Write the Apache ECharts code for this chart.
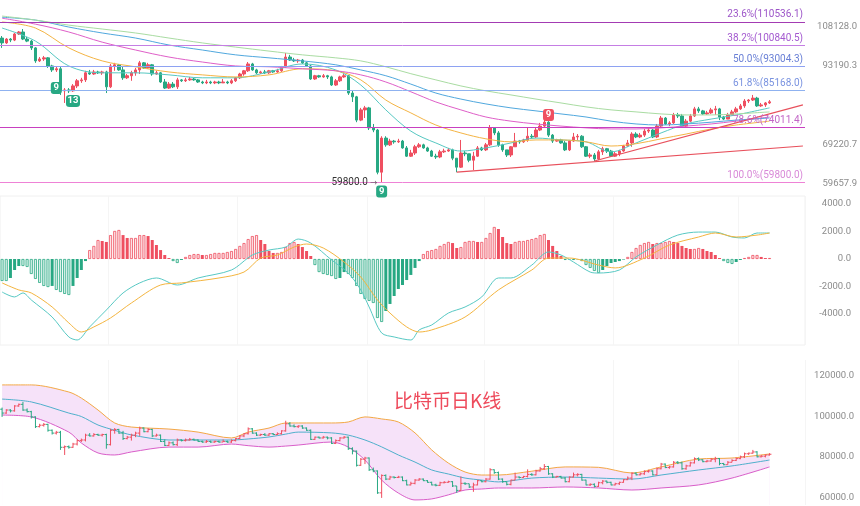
<!DOCTYPE html>
<html>
<head>
<meta charset="utf-8">
<script src="https://cdn.jsdelivr.net/npm/echarts@6/dist/echarts.min.js"></script>
<style>
  html, body { margin: 0; padding: 0; background: #fff; }
  #chart { width: 860px; height: 506px; }
</style>
</head>
<body>
<div id="chart"></div>
<script>
// 日K数据 (开, 收, 高, 低)
const OPEN = [
  103600,101700,103200,102800,105200,106000,103200,102400,99800,95000,
  95700,96100,93200,91800,92200,84800,85100,84800,86400,88100,
  88400,90800,90400,91100,90800,91100,86100,93200,93600,91800,
  89100,89800,90800,91800,94300,92500,93600,90400,90800,87700,
  85700,87000,86100,88400,88100,88400,88700,88400,87700,87400,
  87700,87400,87700,87400,87700,87400,88100,89100,90400,91500,
  93900,91800,90800,91100,90800,91500,91100,91500,92900,96400,
  95300,95000,95300,94300,93200,88700,89800,89400,89800,89400,
  86700,88100,89400,89800,84100,82900,75900,78900,79500,73700,
  73100,62300,70900,69100,70100,69900,70100,68300,66200,67000,
  68600,69100,68300,67500,66200,66000,67300,67500,67800,65700,
  63500,67000,66800,65200,66200,68300,67800,69100,73700,72300,
  69100,67800,66500,68600,70100,69900,70400,71400,71200,73100,
  74200,75300,71700,70100,70400,69600,67800,70100,71200,71400,
  68600,66200,66500,65500,67300,68100,67500,66200,66800,67500,
  68800,69600,72000,71200,71700,72800,73100,71200,74200,76500,
  74800,75100,77400,77100,74200,75600,77100,79200,78600,77700,
  78000,78900,79200,76800,76200,77400,78300,79200,80100,81600,
  81900,82500,80100,80400,81000
];
const CLOSE = [
  101700,103200,102800,105200,106000,103200,102400,99800,95000,95700,
  96100,93200,91800,92200,84800,85100,84800,86400,88100,88400,
  90800,90400,91100,90800,91100,86100,93200,93600,91800,89100,
  89800,90800,91800,94300,92500,93600,90400,90800,87700,85700,
  87000,86100,88400,88100,88400,88700,88400,87700,87400,87700,
  87400,87700,87400,87700,87400,88100,89100,90400,91500,93900,
  91800,90800,91100,90800,91500,91100,91500,92900,96400,95300,
  95000,95300,94300,93200,88700,89800,89400,89800,89400,86700,
  88100,89400,89800,84100,82900,75900,78900,79500,73700,73100,
  62300,70900,69100,70100,69900,70100,68300,66200,67000,68600,
  69100,68300,67500,66200,66000,67300,67500,67800,65700,63500,
  67000,66800,65200,66200,68300,67800,69100,73700,72300,69100,
  67800,66500,68600,70100,69900,70400,71400,71200,73100,74200,
  75300,71700,70100,70400,69600,67800,70100,71200,71400,68600,
  66200,66500,65500,67300,68100,67500,66200,66800,67500,68800,
  69600,72000,71200,71700,72800,73100,71200,74200,76500,74800,
  75100,77400,77100,74200,75600,77100,79200,78600,77700,78000,
  78900,79200,76800,76200,77400,78300,79200,80100,81600,81900,
  82500,80100,80400,81000,81353.5
];
const HIGH = [
  104400,103600,103600,105600,106400,107200,104000,102800,100100,96400,
  96800,96400,93600,92900,92900,85700,85700,87000,88700,89100,
  91500,91800,91800,91500,91500,91500,93900,94300,93900,92900,
  90400,91500,92500,95000,94600,94300,93900,91500,91100,88700,
  87700,87700,89100,88700,89100,89400,89100,88700,88100,88400,
  88100,88100,88100,88700,88100,88700,89400,90800,91800,94600,
  94300,92200,91500,91800,91800,91800,92200,93200,97900,97200,
  96100,95700,95700,94600,93600,90100,90100,90400,90100,89800,
  88700,89800,90400,90100,84800,83200,79500,80100,79800,74800,
  73400,71400,71400,70700,70400,70700,70400,68800,67800,69100,
  69600,69400,68600,67800,66800,67800,68100,68300,68100,65700,
  70400,67500,66800,67300,68800,68600,69600,74500,73900,72800,
  69400,67800,68800,72300,70400,70700,73900,72000,73700,75100,
  76500,75600,72000,70700,70700,70100,70400,72300,72000,71700,
  68800,67000,67000,67800,68600,68300,67800,67300,67800,69100,
  70400,72500,72500,72300,73400,73700,73400,74800,77100,76800,
  75600,78000,78000,77700,76200,77700,79800,79800,78900,78600,
  79500,80100,79500,77100,78000,78900,79800,80700,82200,82200,
  83500,82900,81000,81300,81900
];
const LOW = [
  99800,101300,102000,102400,104800,102800,102000,99000,94300,94600,
  95000,92500,91100,91100,83500,81000,84100,84500,85700,87400,
  87700,90100,90100,90400,90100,84100,85700,91500,91500,88400,
  88700,88100,89800,90400,92200,92200,89800,90100,87400,85400,
  85400,85700,85400,87700,87700,88100,88100,87400,87000,87000,
  87000,87000,87000,87400,87000,87000,87700,88700,89800,91100,
  91500,90400,90400,90400,90400,90800,90800,91100,92500,95000,
  94600,94300,93900,92900,88400,88400,89100,89100,88700,86400,
  86400,87700,89100,83500,81300,75300,75600,76500,73100,72500,
  61800,59800,68600,68800,69400,69600,68100,66000,66000,66500,
  68300,68100,67300,66000,65500,65700,67000,67300,65200,62300,
  63300,66200,64700,62800,66000,67500,67500,68800,71700,68600,
  67300,66000,66000,68600,69400,69600,69900,70700,70900,72800,
  73700,71200,69600,69900,69400,67500,67500,69900,70400,68300,
  66000,65700,65000,65200,66500,67000,66000,66000,66200,67300,
  68600,68600,70900,70900,71200,72300,70900,70900,73900,74500,
  74200,74800,76500,73700,73700,75300,76800,78000,77400,77400,
  77700,77400,75900,75900,76200,77400,78000,78900,79500,81000,
  81600,79800,79800,79800,80700
];
const LAST_PRICE = 81353.5;

// 均线 (读图取样点)
const MA_IDX = [0, 8, 16, 24, 32, 40, 48, 56, 64, 72, 80, 86, 92, 98, 104, 110, 116, 122, 128, 134, 140, 146, 152, 158, 164, 170, 176, 184];
const MA_A = [107600, 102400, 93200, 90800, 90800, 90100, 89100, 89100, 91100, 93900, 91800, 86700, 78900, 72800, 69600, 67500, 68300, 69600, 70900, 70400, 69900, 67300, 69600, 72300, 74800, 76200, 77400, 79500];
const MA_B = [110100, 107600, 99800, 95000, 92900, 91100, 90100, 89400, 90100, 92200, 91500, 88400, 81900, 78000, 74500, 72300, 70700, 69900, 70400, 70400, 69900, 68800, 69400, 70700, 72000, 73400, 74500, 75600];
const MA_C = [111700, 109200, 106000, 102000, 99000, 96400, 94600, 93200, 92900, 92200, 91500, 90100, 87700, 84500, 81300, 78900, 76800, 75600, 74800, 74200, 73700, 73400, 73400, 73700, 74200, 74800, 75600, 76800];
const MA_D = [112100, 110900, 108000, 105600, 103600, 100900, 99000, 97200, 96100, 95000, 93600, 91800, 89800, 87000, 84100, 82200, 80700, 79500, 78600, 77700, 76800, 75600, 74800, 74500, 74800, 75300, 75900, 76500];
const MA_E = [112600, 110900, 108800, 107200, 105600, 103600, 101700, 100100, 98600, 97200, 96100, 95000, 92900, 90500, 88400, 86400, 84800, 83500, 82200, 81000, 79800, 78900, 78300, 77700, 77400, 77400, 77700, 78300];

// 斐波那契回撤
const FIB_LEVELS = ['23.6%', '38.2%', '50.0%', '61.8%', '78.6%', '100.0%'];
const FIB_PRICES = [110536.1, 100840.5, 93004.3, 85168.0, 74011.4, 59800.0];

// 趋势线端点 [索引, 价格]
const TREND_LOW = [[109, 62300], [192, 68800]];
const TREND_UP = [[142, 65000], [192, 80400]];

// 九转序列标记 [索引, 价格, 文字]
const TD_BUY = [[13, 85700, '9'], [17, 81600, '13'], [91, 57900, '9']];
const TD_SELL = [[131, 77400, '9']];

const PRICE_TICKS = [59657.9, 69220.7, 93190.3, 108128.0];
const TOP_RANGE = [57140, 117420];

// MACD
const MACD_HIST = [
  -1600,-1600,-1380,-800,-510,-510,-580,-1090,-1450,-1740,
  -1960,-2040,-1960,-2250,-2400,-2540,-2620,-1960,-1380,-800,
  -150,650,950,1380,1310,1240,1740,2040,2110,1740,
  1530,1530,1530,1740,1740,1670,1380,1020,650,290,
  70,-150,-290,-70,150,290,360,360,290,290,
  360,440,440,440,510,580,730,950,1160,1450,
  1670,1740,1380,1090,580,440,440,510,870,1160,
  1240,1090,870,580,220,-440,-950,-1090,-1160,-1240,
  -1450,-1380,-950,-1090,-1380,-1960,-2540,-2910,-3050,-3200,
  -4290,-4580,-3780,-3270,-2690,-2180,-1890,-1530,-1160,-650,
  -150,360,580,650,730,950,1090,1240,1160,800,
  870,1240,1310,1310,1240,1240,1530,1890,2330,2180,
  1600,1160,1090,1240,1310,1310,1380,1450,1530,1740,
  1820,1380,950,580,220,-70,-40,-70,-30,-150,
  -440,-650,-870,-1020,-800,-510,-290,-220,-150,-40,
  150,510,800,1020,1160,1240,1090,1160,1160,1240,
  1310,1240,1160,950,800,730,730,800,730,580,
  510,290,70,-150,-290,-360,-220,-70,70,150,
  290,290,150,70,70
];
const DIF_IDX = [0,3,5,7,12,16,18,21,25,29,33,37,42,47,55,60,64,68,71,74,79,83,86,88,91,94,98,100,103,107,111,115,119,122,127,131,134,137,141,143,148,152,157,162,167,171,175,178,181,184];
const DIF = [-2400,-2760,-2470,-2980,-4220,-5670,-5890,-4940,-3710,-2470,-1740,-1380,-1890,-1380,-800,290,650,870,1450,1160,-70,-1020,-2250,-3490,-5380,-5670,-5890,-5160,-4800,-3930,-3490,-2760,-1380,-1380,-440,510,290,-220,-950,-1020,-800,150,1020,1740,1960,1960,1600,1530,1890,1890];
const DEA_IDX = [0,4,7,12,16,19,22,26,31,38,43,52,58,62,66,70,73,77,82,86,90,93,97,100,103,111,119,127,131,136,143,147,154,160,167,171,176,181,184];
const DEA = [-1740,-2250,-2470,-3490,-4650,-5310,-4940,-4290,-3200,-1890,-1740,-1380,-950,70,290,870,1090,800,-220,-1310,-2980,-3930,-4940,-5310,-5160,-4220,-2250,-800,70,70,-440,-650,70,1020,1600,1890,1600,1740,1890];
const MACD_TICKS = [-4000, -2000, 0, 2000, 4000];

// 布林带
const BOLL_IDX = [0, 7, 16, 19, 23, 27, 31, 40, 47, 55, 59, 64, 68, 71, 79, 83, 87, 91, 95, 99, 103, 107, 111, 115, 119, 127, 135, 143, 151, 158, 167, 175, 184];
const BOLL_UP = [115600, 115600, 112100, 109100, 103200, 96800, 94800, 93800, 92300, 89400, 92300, 94300, 96800, 96800, 96800, 97300, 99800, 98800, 97300, 91900, 83500, 77000, 72600, 71100, 71100, 73000, 75100, 74900, 72100, 75100, 79000, 79500, 81500];
const BOLL_MID = [108600, 107200, 101700, 100000, 95800, 93200, 90900, 88400, 88400, 88400, 88900, 89900, 91300, 92300, 91900, 90800, 88400, 85000, 81000, 77500, 73600, 71600, 69600, 68600, 67700, 69600, 70100, 69600, 69100, 71100, 73600, 75600, 78500];
const BOLL_LOW = [100700, 99800, 92300, 86900, 82000, 81000, 82500, 84900, 84900, 86400, 85600, 84900, 85400, 85900, 87400, 84900, 78500, 68600, 62200, 58800, 59300, 61300, 63700, 64200, 64700, 64700, 65200, 64700, 63700, 64700, 66200, 69600, 75100];
const BOLL_TICKS = [60000, 80000, 100000, 120000];

// 颜色
const UP = '#ef4f60';
const DOWN = '#27a883';
const FIB_LINE_COLORS = ['#a33bb3', '#c57ee4', '#8ea2f2', '#8fb2f0', '#c840c0', '#ee82d6'];
const FIB_TEXT_COLORS = ['#9c55c8', '#a45ad0', '#6a80d6', '#7a93e0', '#c266c6', '#d98ad8'];
const MA_COLORS = ['#56c8c2', '#f4b444', '#df5fc8', '#50a8de', '#a9dca2'];

const TOTAL_DAYS = 193;
const DAYS = [];
for (let i = 0; i < TOTAL_DAYS; i++) {
  DAYS.push(new Date(Date.UTC(2025, 10, 5 + i)).toISOString().slice(0, 10));
}

const ln = Math.log;
const pairs = (idx, vals, f) => idx.map((k, i) => [k, f ? f(vals[i]) : vals[i]]);

function initChart() {
  const chart = echarts.init(document.getElementById('chart'));

  const kData = OPEN.map((o, i) => [ln(o), ln(CLOSE[i]), ln(LOW[i]), ln(HIGH[i])]);
  const ohlcData = OPEN.map((o, i) => [i, o, CLOSE[i], LOW[i], HIGH[i]]);

  // 斐波那契线 + 趋势线 + 最新价
  const markLines = FIB_PRICES.map((p, i) => ({
    yAxis: ln(p),
    lineStyle: { color: FIB_LINE_COLORS[i], width: 1, type: 'solid' },
    label: {
      show: true,
      position: 'insideEndTop',
      distance: 2,
      formatter: FIB_LEVELS[i] + '(' + p.toFixed(1) + ')',
      color: FIB_TEXT_COLORS[i],
      fontSize: 10
    }
  }));
  [TREND_LOW, TREND_UP].forEach(seg => {
    markLines.push([
      { coord: [seg[0][0], ln(seg[0][1])], lineStyle: { color: '#e8505c', width: 1.2, type: 'solid' }, label: { show: false } },
      { coord: [seg[1][0], ln(seg[1][1])] }
    ]);
  });
  markLines.push({
    yAxis: ln(LAST_PRICE),
    lineStyle: { opacity: 0 },
    label: {
      show: true,
      position: 'end',
      distance: 3,
      formatter: LAST_PRICE.toFixed(1),
      color: '#fff',
      backgroundColor: UP,
      padding: [3, 5, 3, 5],
      fontSize: 10.5
    }
  });

  const markPoints = [];
  TD_BUY.forEach(t => markPoints.push({
    coord: [t[0], ln(t[1])],
    symbol: 'roundRect',
    symbolSize: [t[2].length > 1 ? 14 : 11, 12],
    itemStyle: { color: DOWN },
    label: { formatter: t[2] }
  }));
  TD_SELL.forEach(t => markPoints.push({
    coord: [t[0], ln(t[1])],
    symbol: 'roundRect',
    symbolSize: [11, 12],
    itemStyle: { color: UP },
    label: { formatter: t[2] }
  }));
  markPoints.push({
    coord: [91, ln(59800)],
    symbol: 'circle',
    symbolSize: 1,
    itemStyle: { color: 'rgba(0,0,0,0)' },
    label: {
      position: 'left',
      distance: 4,
      fontWeight: 'normal',
      formatter: '{t|59800.0} {a|→}',
      rich: {
        t: { color: '#333', fontSize: 10, fontWeight: 'normal' },
        a: { color: '#555', fontSize: 7, fontWeight: 'normal' }
      }
    }
  });

  // MACD 柱: 放大为空心, 缩小为实心
  const macdBars = MACD_HIST.map((v, i) => {
    const prev = i > 0 ? MACD_HIST[i - 1] : 0;
    const hollow = Math.abs(v) >= Math.abs(prev) || Math.sign(v) !== Math.sign(prev);
    const c = v >= 0 ? UP : DOWN;
    return {
      value: v,
      itemStyle: hollow
        ? { color: v >= 0 ? '#fde3e6' : '#d9f2e9', borderColor: c, borderWidth: 0.8 }
        : { color: c }
    };
  });

  const maSeries = [MA_A, MA_B, MA_C, MA_D, MA_E].map((arr, i) => ({
    type: 'line',
    xAxisIndex: 0,
    yAxisIndex: 0,
    data: pairs(MA_IDX, arr, ln),
    smooth: 0.35,
    showSymbol: false,
    silent: true,
    lineStyle: { color: MA_COLORS[i], width: 1 },
    z: 3
  }));

  const xBase = (gi, grid) => ({
    type: 'category',
    gridIndex: gi,
    data: DAYS,
    boundaryGap: true,
    axisLine: { show: false },
    axisTick: { show: false },
    axisLabel: { show: false },
    splitLine: {
      show: grid,
      interval: (idx, val) => val.slice(8) === '01',
      lineStyle: { color: '#f5f5f5', width: 1 }
    }
  });

  const labelStyle = { color: '#8c8c8c', fontSize: 9.5, align: 'right' };

  const option = {
    animation: false,
    backgroundColor: '#fff',
    textStyle: { fontFamily: 'Roboto, "Noto Sans CJK SC", sans-serif' },
    title: {
      text: '比特币日K线',
      left: 389,
      top: 386,
      textStyle: { color: '#ee4b5c', fontSize: 19, fontWeight: 'normal', fontFamily: '"Noto Sans CJK SC", sans-serif' }
    },
    grid: [
      { left: 0, right: 55, top: 5, height: 190 },
      { left: 0, right: 55, top: 196, height: 149, show: true, borderColor: '#f0f0f0', borderWidth: 1 },
      { left: 0, right: 55, top: 360, height: 145 }
    ],
    xAxis: [xBase(0, false), xBase(1, true), xBase(2, true)],
    yAxis: [
      {
        gridIndex: 0, type: 'value', position: 'right',
        min: ln(TOP_RANGE[0]), max: ln(TOP_RANGE[1]),
        axisLine: { show: false }, axisTick: { show: false }, splitLine: { show: false },
        axisLabel: Object.assign({}, labelStyle, {
          margin: 52,
          customValues: PRICE_TICKS.map(ln),
          formatter: v => Math.exp(v).toFixed(1)
        })
      },
      {
        gridIndex: 1, type: 'value', position: 'right',
        min: -6255, max: 4582,
        axisLine: { show: false }, axisTick: { show: false }, splitLine: { show: false },
        axisLabel: Object.assign({}, labelStyle, {
          margin: 46,
          customValues: MACD_TICKS,
          formatter: v => v.toFixed(1)
        })
      },
      {
        gridIndex: 2, type: 'value', position: 'right',
        min: 56300, max: 127900,
        axisLine: { show: false }, axisTick: { show: false }, splitLine: { show: false },
        axisLabel: Object.assign({}, labelStyle, {
          margin: 49,
          customValues: BOLL_TICKS,
          formatter: v => v.toFixed(1)
        })
      }
    ],
    series: [
      {
        name: 'K',
        type: 'candlestick',
        xAxisIndex: 0,
        yAxisIndex: 0,
        data: kData,
        barWidth: 3,
        itemStyle: { color: UP, color0: DOWN, borderColor: UP, borderColor0: DOWN, borderWidth: 1 },
        z: 2,
        markLine: { silent: true, symbol: ['none', 'none'], animation: false, data: markLines },
        markPoint: {
          silent: true,
          animation: false,
          label: { show: true, color: '#fff', fontSize: 9.5, fontWeight: 'bold', position: 'inside' },
          data: markPoints
        }
      },
      ...maSeries,
      {
        name: 'MACD',
        type: 'bar',
        xAxisIndex: 1,
        yAxisIndex: 1,
        data: macdBars,
        barWidth: 3,
        silent: true
      },
      {
        name: 'DIF',
        type: 'line',
        xAxisIndex: 1,
        yAxisIndex: 1,
        data: pairs(DIF_IDX, DIF),
        smooth: 0.3,
        showSymbol: false,
        silent: true,
        lineStyle: { color: '#58c9c4', width: 1 }
      },
      {
        name: 'DEA',
        type: 'line',
        xAxisIndex: 1,
        yAxisIndex: 1,
        data: pairs(DEA_IDX, DEA),
        smooth: 0.3,
        showSymbol: false,
        silent: true,
        lineStyle: { color: '#f4b53f', width: 1 }
      },
      {
        name: 'UP',
        type: 'line',
        xAxisIndex: 2,
        yAxisIndex: 2,
        data: pairs(BOLL_IDX, BOLL_UP),
        smooth: 0.3,
        showSymbol: false,
        silent: true,
        lineStyle: { color: '#f3a845', width: 1 },
        areaStyle: { color: '#f6e2f9', opacity: 1, origin: 'start' },
        z: 1
      },
      {
        name: 'DN',
        type: 'line',
        xAxisIndex: 2,
        yAxisIndex: 2,
        data: pairs(BOLL_IDX, BOLL_LOW),
        smooth: 0.3,
        showSymbol: false,
        silent: true,
        lineStyle: { color: '#d95ec9', width: 1 },
        areaStyle: { color: '#ffffff', opacity: 1, origin: 'start' },
        z: 2
      },
      {
        name: 'MID',
        type: 'line',
        xAxisIndex: 2,
        yAxisIndex: 2,
        data: pairs(BOLL_IDX, BOLL_MID),
        smooth: 0.3,
        showSymbol: false,
        silent: true,
        lineStyle: { color: '#4fb0cc', width: 1 },
        z: 3
      },
      {
        name: 'OHLC',
        type: 'custom',
        xAxisIndex: 2,
        yAxisIndex: 2,
        data: ohlcData,
        encode: { x: 0, y: [1, 2, 3, 4] },
        silent: true,
        z: 4,
        renderItem: function (params, api) {
          const x = api.value(0);
          const o = api.value(1), c = api.value(2), l = api.value(3), h = api.value(4);
          const pO = api.coord([x, o]);
          const pC = api.coord([x, c]);
          const pL = api.coord([x, l]);
          const pH = api.coord([x, h]);
          const w = api.size([1, 0])[0] * 0.45;
          const color = c >= o ? UP : DOWN;
          const st = { stroke: color, lineWidth: 1 };
          return {
            type: 'group',
            children: [
              { type: 'line', shape: { x1: pH[0], y1: pH[1], x2: pL[0], y2: pL[1] }, style: st },
              { type: 'line', shape: { x1: pO[0] - w, y1: pO[1], x2: pO[0], y2: pO[1] }, style: st },
              { type: 'line', shape: { x1: pC[0], y1: pC[1], x2: pC[0] + w, y2: pC[1] }, style: st }
            ]
          };
        }
      }
    ]
  };

  chart.setOption(option);
}

initChart();
</script>
</body>
</html>
